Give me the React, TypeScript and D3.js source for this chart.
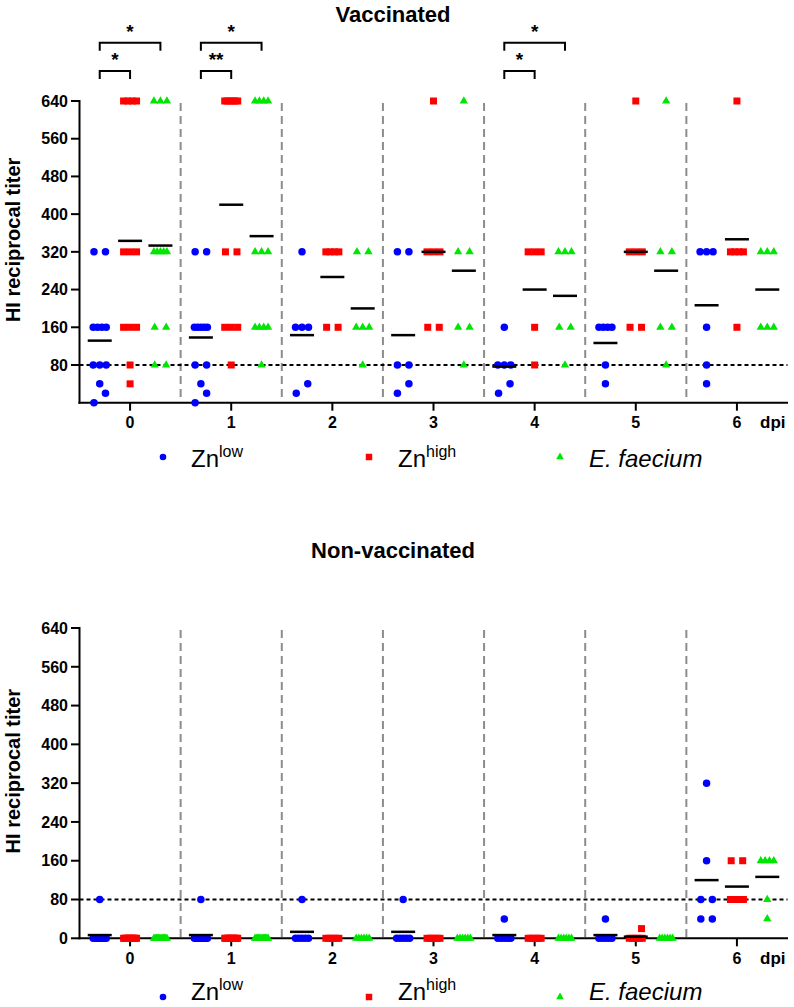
import React from "react";
import * as d3 from "d3";

const days = [0, 1, 2, 3, 4, 5, 6];
const groupOffsets = [-0.3, 0, 0.3];
const groupColors = ["#0000ff", "#ff0000", "#00e600"];
const yTicksTop = [80, 160, 240, 320, 400, 480, 560, 640];
const yTicksBottom = [0, 80, 160, 240, 320, 400, 480, 560, 640];

// Vaccinated birds, HI titers per day (index = dpi)
const vacZnLow = [
  [320, 320, 160, 160, 160, 160, 80, 80, 80, 40, 20, 0],
  [320, 320, 160, 160, 160, 160, 160, 80, 80, 40, 20, 0],
  [320, 160, 160, 160, 40, 20],
  [320, 320, 80, 80, 40, 20],
  [160, 80, 80, 80, 40, 20],
  [160, 160, 160, 160, 80, 40],
  [320, 320, 320, 160, 80, 40],
];
const vacZnHigh = [
  [640, 640, 640, 640, 320, 320, 320, 160, 160, 160, 80, 40],
  [640, 640, 640, 640, 640, 640, 320, 320, 160, 160, 160, 80],
  [320, 320, 320, 320, 160, 160],
  [640, 320, 320, 320, 160, 160],
  [320, 320, 320, 160, 80],
  [640, 320, 320, 320, 160, 160],
  [640, 320, 320, 320, 320, 160],
];
const vacEfaecium = [
  [640, 640, 640, 320, 320, 320, 320, 320, 160, 160, 80, 80],
  [640, 640, 640, 640, 320, 320, 320, 160, 160, 160, 160, 80],
  [320, 320, 160, 160, 160, 80],
  [640, 320, 320, 160, 160, 80],
  [320, 320, 320, 160, 160, 80],
  [640, 320, 320, 160, 160, 80],
  [320, 320, 320, 160, 160, 160],
];

// Non-vaccinated birds
const nonZnLow = [
  [80, 0, 0, 0, 0, 0, 0, 0, 0, 0, 0, 0],
  [80, 0, 0, 0, 0, 0, 0, 0, 0, 0, 0, 0],
  [80, 0, 0, 0, 0, 0],
  [80, 0, 0, 0, 0, 0],
  [40, 0, 0, 0, 0, 0],
  [40, 0, 0, 0, 0, 0],
  [320, 160, 80, 80, 40, 40],
];
const nonZnHigh = [
  [0, 0, 0, 0, 0, 0, 0, 0, 0, 0, 0, 0],
  [0, 0, 0, 0, 0, 0, 0, 0, 0, 0, 0, 0],
  [0, 0, 0, 0, 0, 0],
  [0, 0, 0, 0, 0, 0],
  [0, 0, 0, 0, 0, 0],
  [20, 0, 0, 0, 0, 0],
  [160, 160, 80, 80, 80, 80],
];
const nonEfaecium = [
  [0, 0, 0, 0, 0, 0, 0, 0, 0, 0, 0, 0],
  [0, 0, 0, 0, 0, 0, 0, 0, 0, 0, 0, 0],
  [0, 0, 0, 0, 0, 0],
  [0, 0, 0, 0, 0, 0],
  [0, 0, 0, 0, 0, 0],
  [0, 0, 0, 0, 0, 0],
  [160, 160, 160, 160, 80, 40],
];

// significance brackets (vaccinated only)
const brackets = [
  { day: 0, from: 0, to: 2, label: "*", level: 0 },
  { day: 0, from: 0, to: 1, label: "*", level: 1 },
  { day: 1, from: 0, to: 2, label: "*", level: 0 },
  { day: 1, from: 0, to: 1, label: "**", level: 1 },
  { day: 4, from: 0, to: 2, label: "*", level: 0 },
  { day: 4, from: 0, to: 1, label: "*", level: 1 },
];

const FONT = "'Liberation Sans', Arial, Helvetica, sans-serif";

const x = d3.scaleLinear().domain([-0.5, 6.5]).range([79.5, 787.5]);

const symbols = [
  d3.symbol(d3.symbolCircle, 44)(),
  d3.symbol(d3.symbolSquare, 49)(),
  d3.symbol(d3.symbolTriangle, 30)(),
];
const legendSymbols = [
  d3.symbol(d3.symbolCircle, 34)(),
  d3.symbol(d3.symbolSquare, 42)(),
  d3.symbol(d3.symbolTriangle, 26)(),
];

// column scatter a la GraphPad: same values spread in a row, close singles alternate
function layoutGroup(values: number[], y: (v: number) => number) {
  const sorted = values.slice().sort((a, b) => b - a);
  const rows = d3.groups(sorted, (v) => v);
  const out: { v: number; dx: number }[] = [];
  let i = 0;
  while (i < rows.length) {
    const [v, arr] = rows[i];
    if (arr.length > 1) {
      const k = arr.length;
      const s = Math.min(11.5, 13 / (k - 1));
      arr.forEach((_, j) => out.push({ v, dx: (j - (k - 1) / 2) * s }));
      i++;
      continue;
    }
    const cl = [v];
    let j = i + 1;
    while (
      j < rows.length &&
      rows[j][1].length === 1 &&
      Math.abs(y(rows[j][0]) - y(rows[j - 1][0])) < 12
    ) {
      cl.push(rows[j][0]);
      j++;
    }
    if (cl.length === 1) {
      const near = [rows[i - 1], rows[i + 1]].some(
        (r) => r && Math.abs(y(r[0]) - y(v)) < 12
      );
      out.push({ v, dx: near ? 5.75 : 0 });
    } else {
      cl.forEach((cv, m) => {
        let dx;
        if (cl.length % 2 === 1) {
          dx = m === 0 ? 0 : (m % 2 === 1 ? 1 : -1) * 5.75 * Math.ceil(m / 2);
        } else {
          dx = (m % 2 === 0 ? 1 : -1) * 5.75 * (Math.floor(m / 2) + 1);
        }
        out.push({ v: cv, dx });
      });
    }
    i = j;
  }
  return out;
}

function Panel({ series, title, titleY, y0, y640, ticks, legendY, markerDy, showBrackets }) {
  const y = d3.scaleLinear().domain([0, 640]).range([y0, y640]);
  const labelY = (y0 + y640) / 2 - 12;
  return (
    <g>
      <text x={393} y={titleY} textAnchor="middle" fontSize={22} fontWeight="bold" fontFamily={FONT}>
        {title}
      </text>
      {/* dividers between days */}
      {days.slice(0, -1).map((d) => (
        <line key={"div" + d} x1={x(d + 0.5)} x2={x(d + 0.5)} y1={y640 + 2} y2={y0}
          stroke="#8c8c8c" strokeWidth={2} strokeDasharray="8,5" />
      ))}
      {/* detection limit line */}
      <line x1={x(-0.5)} x2={x(6.5)} y1={y(80)} y2={y(80)} stroke="#000" strokeWidth={2} strokeDasharray="4,3" />
      {/* axes */}
      <line x1={79.5} x2={79.5} y1={y640 - 1} y2={y0 + 1} stroke="#000" strokeWidth={2} />
      <line x1={78.5} x2={788} y1={y0} y2={y0} stroke="#000" strokeWidth={2} />
      {ticks.map((t) => (
        <g key={"yt" + t}>
          <line x1={71} x2={79.5} y1={y(t)} y2={y(t)} stroke="#000" strokeWidth={2} />
          <text x={68} y={y(t)} dy="0.36em" textAnchor="end" fontSize={16} fontWeight="bold" fontFamily={FONT}>
            {t}
          </text>
        </g>
      ))}
      {days.map((d) => (
        <g key={"xt" + d}>
          <line x1={x(d)} x2={x(d)} y1={y0} y2={y0 + 8} stroke="#000" strokeWidth={2} />
          <text x={x(d)} y={y0 + 25.5} textAnchor="middle" fontSize={16} fontWeight="bold" fontFamily={FONT}>
            {d}
          </text>
        </g>
      ))}
      <text x={760} y={y0 + 25.5} fontSize={17} fontWeight="bold" fontFamily={FONT}>dpi</text>
      <text transform={`translate(20,${labelY}) rotate(-90)`} textAnchor="middle" fontSize={20}
        fontWeight="bold" fontFamily={FONT}>
        HI reciprocal titer
      </text>
      {/* points */}
      {series.map((s, gi) =>
        s.map((vals, d) => {
          const cx = x(d + groupOffsets[gi]);
          return layoutGroup(vals, y).map((p, k) => (
            <path key={`p${gi}-${d}-${k}`} d={symbols[gi]}
              transform={`translate(${cx + p.dx},${y(p.v)})`} fill={groupColors[gi]} />
          ));
        })
      )}
      {/* means */}
      {series.map((s, gi) =>
        s.map((vals, d) => {
          const m = d3.mean(vals);
          if (!m) return null;
          const cx = x(d + groupOffsets[gi]);
          return (
            <line key={`m${gi}-${d}`} x1={cx - 12} x2={cx + 12} y1={y(m)} y2={y(m)}
              stroke="#000" strokeWidth={2.5} />
          );
        })
      )}
      {showBrackets &&
        brackets.map((b, i) => {
          const yb = b.level === 0 ? 42.7 : 71;
          const x1 = x(b.day + groupOffsets[b.from]);
          const x2 = x(b.day + groupOffsets[b.to]);
          return (
            <g key={"br" + i}>
              <path d={`M${x1},${yb + 8}V${yb}H${x2}V${yb + 8}`} fill="none" stroke="#000" strokeWidth={2} />
              <text x={(x1 + x2) / 2} y={yb - 5} textAnchor="middle" fontSize={19} fontWeight="bold" fontFamily={FONT}>
                {b.label}
              </text>
            </g>
          );
        })}
      {/* legend */}
      <g fontFamily={FONT}>
        <path d={legendSymbols[0]} transform={`translate(163,${legendY + markerDy})`} fill={groupColors[0]} />
        <text x={191} y={legendY} fontSize={24}>
          Zn<tspan fontSize={16} dy={-10}>low</tspan>
        </text>
        <path d={legendSymbols[1]} transform={`translate(369,${legendY + markerDy})`} fill={groupColors[1]} />
        <text x={398} y={legendY} fontSize={24}>
          Zn<tspan fontSize={16} dy={-10}>high</tspan>
        </text>
        <path d={legendSymbols[2]} transform={`translate(560,${legendY + markerDy})`} fill={groupColors[2]} />
        <text x={589} y={legendY} fontSize={24} fontStyle="italic">E. faecium</text>
      </g>
    </g>
  );
}

export default function App() {
  return (
    <svg width={794} height={1007} style={{ position: "absolute", left: 0, top: 0, background: "#fff" }}>
      <rect width={794} height={1007} fill="#fff" />
      <Panel series={[vacZnLow, vacZnHigh, vacEfaecium]} title="Vaccinated" titleY={21.7}
        y0={402.7} y640={101} ticks={yTicksTop} legendY={467} markerDy={-10} showBrackets={true} />
      <Panel series={[nonZnLow, nonZnHigh, nonEfaecium]} title="Non-vaccinated" titleY={558}
        y0={938.3} y640={628} ticks={yTicksBottom} legendY={1000} markerDy={-3} showBrackets={false} />
    </svg>
  );
}
